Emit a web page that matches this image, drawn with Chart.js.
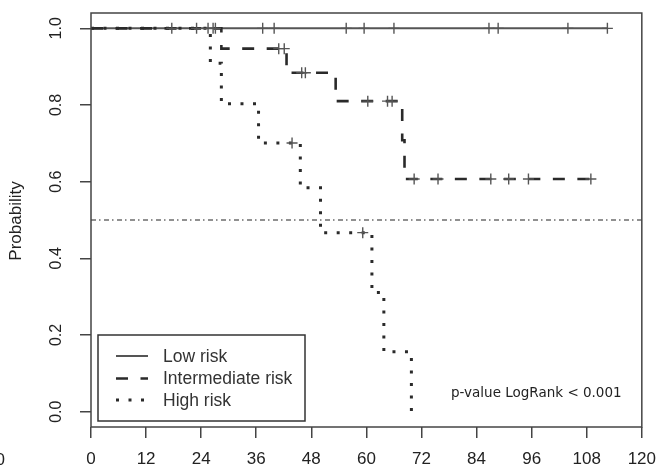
<!DOCTYPE html>
<html><head><meta charset="utf-8">
<script src="https://cdn.jsdelivr.net/npm/chart.js@4"></script>
<style>html,body{margin:0;padding:0;background:#fff}#wrap{width:667px;height:468px;position:relative}</style>
</head><body><div id="wrap"><canvas id="c" width="667" height="468"></canvas></div>
<script>
const xTicks=[0,12,24,36,48,60,72,84,96,108,120];
const yTicks=[0,0.2,0.4,0.6,0.8,1.0];
const yTickLabels=['0.0','0.2','0.4','0.6','0.8','1.0'];
const seriesNames=['Low risk','Intermediate risk','High risk'];
const lowTimes=[0,112.5];
const lowSurv=[1,1];
const lowCensor=[17.6,23.0,25.5,26.6,27.1,37.4,39.9,55.6,59.5,66.0,86.7,88.7,103.9,112.5];
const intTimes=[0,28.4,42.6,53.3,67.8,68.3,108.9];
const intSurv=[1,0.947,0.884,0.810,0.708,0.607,0.607];
const intCensor=[40.9,42.1,45.9,46.7,60.3,64.6,65.6,70.4,75.6,87.1,91.0,95.3,108.9];
const highTimes=[0,26.0,28.4,36.5,45.6,50.0,61.2,63.8,69.8];
const highSurv=[1,0.909,0.803,0.701,0.584,0.467,0.311,0.156,0];
const highCensor=[43.8,59.2];
const refLevel=0.5;
const pText='p-value LogRank < 0.001';
const xLabel='';
const yLabel='Probability';

function pts(t,s){return t.map((v,i)=>({x:v,y:s[i]}));}
function stepAt(t,s,x){let y=s[0];for(let i=0;i<t.length;i++){if(t[i]<=x)y=s[i];}return y;}
function cens(c,t,s){return c.map(x=>({x:x,y:stepAt(t,s,x)}));}

const LINE='#333';
const styles=[
 {color:'#555',width:2,dash:[]},
 {color:'#2a2a2a',width:2.6,dash:[12,12.5]},
 {color:'#2a2a2a',width:3,dash:[3,9.5]}
];

const overlay={
 id:'overlay',
 afterDatasetsDraw(chart){
  const ctx=chart.ctx, a=chart.chartArea, ys=chart.scales.y, xs=chart.scales.x;
  ctx.save();
  // box
  ctx.strokeStyle='#444';ctx.lineWidth=1.5;ctx.setLineDash([]);
  ctx.strokeRect(a.left,a.top,a.right-a.left,a.bottom-a.top);
  // y tick labels
  ctx.fillStyle='#222';ctx.font='16px "Liberation Sans", Arial, sans-serif';
  ctx.textAlign='center';ctx.textBaseline='middle';
  yTicks.forEach((v,i)=>{
   const py=ys.getPixelForValue(v);
   ctx.save();ctx.translate(57,py);ctx.rotate(-Math.PI/2);ctx.fillText(yTickLabels[i],0,0);ctx.restore();
  });
  // y title
  ctx.font='17px "Liberation Sans", Arial, sans-serif';
  ctx.save();ctx.translate(16,(ys.getPixelForValue(0)+ys.getPixelForValue(1))/2+1);ctx.rotate(-Math.PI/2);ctx.fillText(yLabel,0,0);ctx.restore();
  // stray label at left edge
  ctx.textAlign='right';ctx.textBaseline='alphabetic';
  ctx.fillText('120',5,465);
  // p-value
  ctx.textAlign='left';ctx.font='13.5px "DejaVu Sans", sans-serif';ctx.fillStyle='#222';
  ctx.fillText(pText,451,397);
  // legend
  const bx=98,by=335,bw=207,bh=86;
  ctx.fillStyle='#fff';ctx.fillRect(bx,by,bw,bh);
  ctx.strokeStyle='#333';ctx.lineWidth=1.5;ctx.strokeRect(bx,by,bw,bh);
  const rows=[356,378.5,400];
  ctx.font='17.5px "Liberation Sans", Arial, sans-serif';ctx.textBaseline='middle';
  seriesNames.forEach((n,i)=>{
   const st=styles[i];
   ctx.beginPath();ctx.strokeStyle=st.color;ctx.lineWidth=st.width;ctx.setLineDash(st.dash);ctx.lineCap='butt';
   ctx.moveTo(116,rows[i]);ctx.lineTo(148,rows[i]);ctx.stroke();
   ctx.setLineDash([]);ctx.fillStyle='#333';ctx.fillText(n,163,rows[i]+1);
  });
  ctx.restore();
 }
};

const ds=[];
const lineData=[[lowTimes,lowSurv],[intTimes,intSurv],[highTimes,highSurv]];
const cData=[lowCensor,intCensor,highCensor];
lineData.forEach((d,i)=>{
 const st=styles[i];
 ds.push({label:seriesNames[i],data:pts(d[0],d[1]),showLine:true,stepped:true,borderColor:st.color,borderWidth:st.width,borderDash:st.dash,borderCapStyle:'butt',pointRadius:0,fill:false,order:3-i});
 ds.push({label:seriesNames[i]+' censored',data:cens(cData[i],d[0],d[1]),showLine:false,pointStyle:'cross',pointRadius:5.5,pointBorderWidth:1.4,pointBorderColor:'#555',pointBackgroundColor:'#555',order:0});
});
ds.push({label:'median',data:[{x:xTicks[0],y:refLevel},{x:xTicks[xTicks.length-1],y:refLevel}],showLine:true,borderColor:'#222',borderWidth:1.2,borderDash:[5,3,1.5,3.5],pointRadius:0,order:5});

new Chart(document.getElementById('c'),{
 type:'scatter',
 data:{datasets:ds},
 options:{
  responsive:false,animation:false,devicePixelRatio:1,
  layout:{padding:{top:13,right:17,left:0,bottom:0}},
  plugins:{legend:{display:false},tooltip:{enabled:false}},
  scales:{
   x:{type:'linear',min:0,max:120,
    afterBuildTicks:s=>{s.ticks=xTicks.map(v=>({value:v}));},
    afterFit:s=>{s.height=41;},
    grid:{drawOnChartArea:false,drawTicks:true,tickLength:11,color:'#444',lineWidth:1.5},
    border:{display:false},
    ticks:{autoSkip:false,maxRotation:0,minRotation:0,padding:11,color:'#222',font:{family:'"Liberation Sans", Arial, sans-serif',size:17}}
   },
   y:{type:'linear',min:-0.04,max:1.04,
    afterBuildTicks:s=>{s.ticks=yTicks.map(v=>({value:v}));},
    afterFit:s=>{s.width=91;},
    grid:{drawOnChartArea:false,drawTicks:true,tickLength:11,color:'#444',lineWidth:1.5},
    border:{display:false},
    ticks:{display:false}
   }
  }
 },
 plugins:[overlay]
});
</script></body></html>
